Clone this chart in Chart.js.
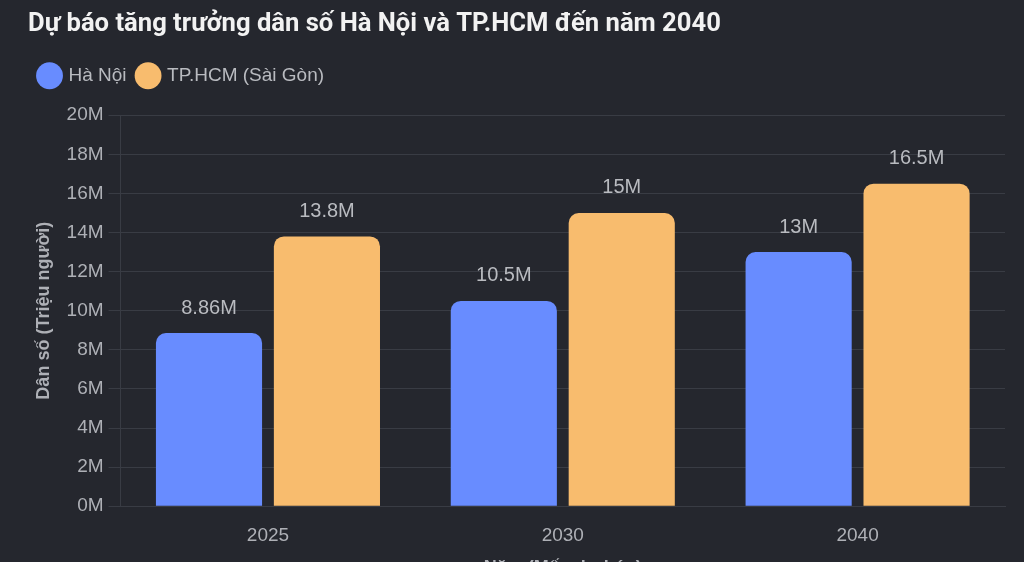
<!DOCTYPE html>
<html lang="vi">
<head>
<meta charset="utf-8">
<script src="https://cdn.jsdelivr.net/npm/chart.js@4.4.1/dist/chart.umd.min.js"></script>
<style>
  html, body { margin: 0; padding: 0; background: #25272e; overflow: hidden; }
  #wrap { position: relative; width: 1024px; height: 581px; }
</style>
</head>
<body>
<div id="wrap"><canvas id="popChart"></canvas></div>
<script>
const years = ["2025", "2030", "2040"];
const hanoi = [8.86, 10.5, 13];       // triệu người
const hcm = [13.8, 15, 16.5];         // triệu người
const seriesNames = ["Hà Nội", "TP.HCM (Sài Gòn)"];

const gridColor = "#393c44";
const tickColor = "#aeb0b6";

// ghi giá trị lên đầu mỗi cột
const valueLabels = {
  id: "valueLabels",
  afterDatasetsDraw(chart) {
    const ctx = chart.ctx;
    ctx.save();
    ctx.font = "20px 'Liberation Sans', Arial, sans-serif";
    ctx.fillStyle = "#b9bbc0";
    ctx.textAlign = "center";
    ctx.textBaseline = "middle";
    chart.data.datasets.forEach((ds, i) => {
      chart.getDatasetMeta(i).data.forEach((bar, j) => {
        ctx.fillText(ds.data[j] + "M", bar.x, bar.y - 25);
      });
    });
    ctx.restore();
  }
};

// thêm khoảng trống dưới chú thích
const legendGap = {
  id: "legendGap",
  beforeInit(chart) {
    const fit = chart.legend.fit;
    chart.legend.fit = function () {
      fit.bind(chart.legend)();
      this.height += 20;
    };
  }
};

Chart.defaults.font.family = "'Liberation Sans', Arial, sans-serif";

new Chart(document.getElementById("popChart"), {
  type: "bar",
  data: {
    labels: years,
    datasets: [
      { label: seriesNames[0], data: hanoi, backgroundColor: "#688cff", borderRadius: 10, borderSkipped: "bottom" },
      { label: seriesNames[1], data: hcm, backgroundColor: "#f8bc6e", borderRadius: 10, borderSkipped: "bottom" }
    ]
  },
  options: {
    responsive: true,
    maintainAspectRatio: false,
    animation: false,
    layout: { padding: { left: 28, right: 19, top: 8, bottom: 0 } },
    plugins: {
      title: {
        display: true,
        text: "Dự báo tăng trưởng dân số Hà Nội và TP.HCM đến năm 2040",
        align: "start",
        color: "#f2f2f2",
        font: { family: "Roboto", size: 25.6, weight: "bold" },
        padding: { top: 1, bottom: 14.5 }
      },
      legend: {
        align: "start",
        labels: {
          usePointStyle: true,
          pointStyle: "circle",
          color: "#b9bbc0",
          font: { size: 19 },
          padding: 12
        }
      },
      tooltip: { enabled: true }
    },
    scales: {
      x: {
        grid: { display: false },
        border: { color: gridColor },
        ticks: { color: tickColor, font: { size: 19 }, padding: 10 },
        title: {
          display: true,
          text: "Năm (Mốc dự báo)",
          color: tickColor,
          font: { size: 18, weight: "bold", lineHeight: 1 },
          padding: { top: 2, bottom: 4 }
        }
      },
      y: {
        min: 0,
        max: 20,
        grid: { color: gridColor, tickLength: 12 },
        border: { color: gridColor },
        ticks: {
          stepSize: 2,
          color: tickColor,
          font: { size: 19 },
          padding: 5,
          callback: v => v + "M"
        },
        title: {
          display: true,
          text: "Dân số (Triệu người)",
          color: tickColor,
          font: { size: 18, weight: "bold" },
          padding: { top: 5, bottom: 7 }
        }
      }
    }
  },
  plugins: [valueLabels, legendGap]
});
</script>
</body>
</html>
